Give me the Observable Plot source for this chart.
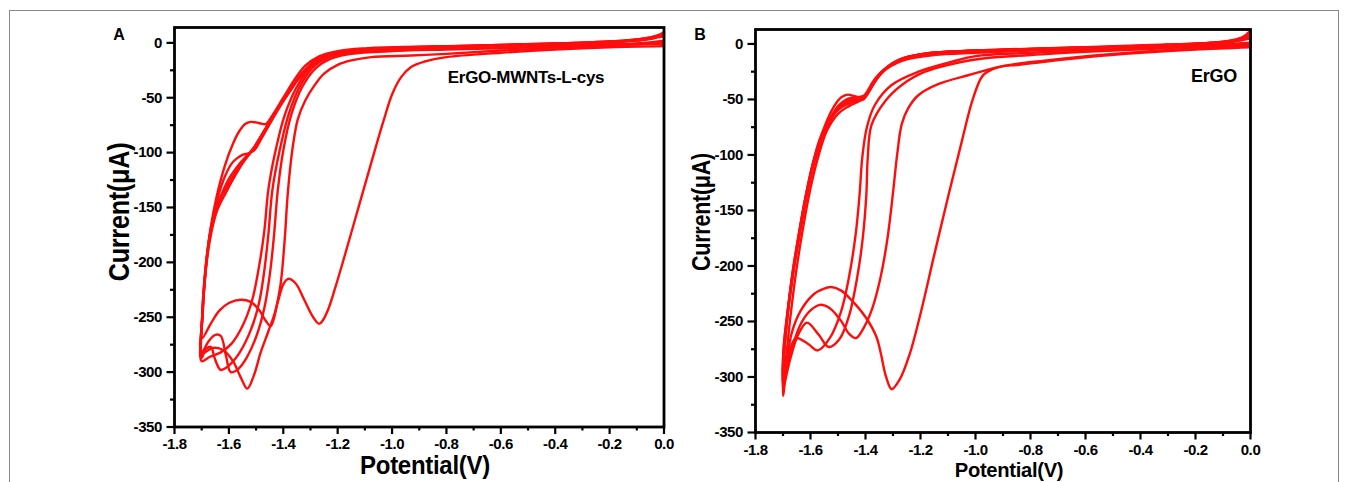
<!DOCTYPE html>
<html><head><meta charset="utf-8">
<script src="https://cdn.jsdelivr.net/npm/d3@7"></script>
<script src="https://cdn.jsdelivr.net/npm/@observablehq/plot@0.6"></script>
<style>
html,body{margin:0;padding:0;background:#fff;}
#fig{position:relative;width:1347px;height:482px;overflow:hidden;font-family:"Liberation Sans",Arial,sans-serif;}
#border{position:absolute;left:9px;top:10px;width:1328px;height:520px;border:1px solid #888;}
.lbl{position:absolute;font-weight:bold;color:#000;white-space:nowrap;line-height:1;}
svg{position:absolute;top:0;}
</style></head><body>
<div id="fig"><div id="border"></div></div>
<script>
// ---------- tick values ----------
const xMajor = [-1.8,-1.6,-1.4,-1.2,-1.0,-0.8,-0.6,-0.4,-0.2,0.0];
const xMinor = [-1.7,-1.5,-1.3,-1.1,-0.9,-0.7,-0.5,-0.3,-0.1];
const yMajor = [0,-50,-100,-150,-200,-250,-300,-350];
const yMinor = [-25,-75,-125,-175,-225,-275,-325];

// ---------- Panel A : ErGO-MWNTs-L-cys  [potential V, current uA] ----------
const A1 = [[0,-3],[-0.2,-4],[-0.4,-6],[-0.6,-9],[-0.8,-13],[-0.88,-17],[-0.93,-22],[-0.966,-31],[-1.0,-47],[-1.03,-70],[-1.06,-95],[-1.09,-121],[-1.12,-147],[-1.15,-173],[-1.18,-199],[-1.21,-224],[-1.235,-243],[-1.255,-253],[-1.268,-256],[-1.29,-250],[-1.323,-234],[-1.355,-219],[-1.382,-215],[-1.40,-220],[-1.42,-236],[-1.446,-258],[-1.465,-253],[-1.49,-243],[-1.52,-236],[-1.556,-234],[-1.60,-237],[-1.635,-244],[-1.667,-256],[-1.698,-269],
  [-1.695,-240],[-1.685,-205],[-1.668,-170],[-1.645,-140],[-1.615,-112],[-1.585,-92],[-1.563,-81],[-1.54,-74],[-1.52,-72],[-1.50,-72.5],[-1.483,-73.5],[-1.464,-74],[-1.44,-66],[-1.40,-50],[-1.36,-34],[-1.32,-21],[-1.27,-12.5],[-1.2,-7.5],[-1.1,-5],[-0.9,-3.5],[-0.6,-2],[-0.3,0],[-0.1,2],[-0.03,5],[0,10]];
const A2 = [[0,2],[-0.1,-1],[-0.3,-3.5],[-0.6,-7],[-0.8,-10],[-0.93,-11.5],[-1.077,-13],[-1.15,-16],[-1.2,-20],[-1.25,-28],[-1.286,-39],[-1.32,-53],[-1.347,-70],[-1.368,-100],[-1.384,-139],[-1.395,-180],[-1.41,-220],[-1.43,-245],[-1.455,-263],[-1.483,-282],[-1.508,-303],[-1.532,-315],[-1.556,-305],[-1.585,-290],[-1.62,-280],[-1.66,-278],[-1.70,-283],
  [-1.697,-250],[-1.688,-215],[-1.672,-178],[-1.65,-150],[-1.62,-125],[-1.59,-110],[-1.569,-105],[-1.55,-102],[-1.532,-101],[-1.507,-98],[-1.48,-87],[-1.45,-74],[-1.41,-57],[-1.375,-44],[-1.34,-31],[-1.31,-22],[-1.27,-14],[-1.22,-9.5],[-1.15,-7],[-1.0,-4.5],[-0.7,-2.5],[-0.4,-0.5],[-0.15,2],[-0.05,5],[0,9]];
const A3 = [[0,1],[-0.1,-0.5],[-0.4,-3.5],[-0.8,-6],[-1.0,-7.5],[-1.15,-10],[-1.22,-14],[-1.28,-23],[-1.33,-40],[-1.37,-65],[-1.40,-98],[-1.42,-134],[-1.435,-178],[-1.45,-212],[-1.47,-242],[-1.50,-268],[-1.535,-287],[-1.565,-297],[-1.593,-300],[-1.61,-286],[-1.63,-267],[-1.65,-266],[-1.675,-272],[-1.70,-282],
  [-1.698,-248],[-1.69,-218],[-1.675,-184],[-1.655,-158],[-1.63,-140],[-1.60,-124],[-1.56,-110],[-1.51,-96],[-1.47,-80],[-1.44,-68],[-1.40,-52],[-1.37,-41],[-1.335,-29],[-1.30,-20],[-1.26,-13.5],[-1.2,-9],[-1.12,-6.5],[-0.95,-4.5],[-0.7,-3],[-0.4,-1],[-0.15,1.5],[-0.05,4],[0,7]];
const A4 = [[0,0],[-0.1,-1],[-0.4,-3],[-0.8,-5.5],[-1.0,-7],[-1.15,-9],[-1.23,-13],[-1.29,-22],[-1.34,-40],[-1.38,-65],[-1.415,-100],[-1.44,-134],[-1.455,-175],[-1.47,-208],[-1.49,-238],[-1.52,-262],[-1.56,-282],[-1.60,-294],[-1.63,-298],[-1.65,-289],[-1.667,-277],[-1.685,-279],[-1.70,-287],
  [-1.697,-245],[-1.687,-212],[-1.67,-180],[-1.645,-154],[-1.61,-136],[-1.575,-120],[-1.54,-106],[-1.50,-93],[-1.46,-77],[-1.43,-65],[-1.39,-49],[-1.36,-38],[-1.325,-26],[-1.29,-18],[-1.25,-12.5],[-1.19,-8.5],[-1.1,-6],[-0.95,-4.5],[-0.7,-2.5],[-0.4,-0.5],[-0.15,2],[-0.05,5],[0,8]];
const A5 = [[0,-1],[-0.1,-1.5],[-0.4,-3],[-0.8,-5],[-1.0,-6.5],[-1.15,-8.5],[-1.24,-13],[-1.30,-22],[-1.35,-40],[-1.395,-66],[-1.43,-100],[-1.455,-134],[-1.47,-172],[-1.49,-205],[-1.515,-235],[-1.55,-258],[-1.59,-274],[-1.63,-282],[-1.67,-286],[-1.70,-290],
  [-1.699,-255],[-1.692,-222],[-1.678,-188],[-1.66,-162],[-1.635,-144],[-1.60,-128],[-1.565,-114],[-1.52,-100],[-1.48,-84],[-1.45,-72],[-1.41,-56],[-1.38,-45],[-1.345,-33],[-1.31,-23],[-1.27,-15.5],[-1.22,-10.5],[-1.15,-7.5],[-1.0,-5],[-0.7,-3],[-0.4,-1],[-0.15,1.5],[-0.05,4],[0,6]];

// ---------- Panel B : ErGO ----------
const B1 = [[0,-3],[-0.2,-5],[-0.4,-8],[-0.6,-12],[-0.75,-16],[-0.85,-19],[-0.90,-20],[-0.94,-23],[-0.975,-29],[-1.01,-50],[-1.05,-88],[-1.097,-135],[-1.15,-190],[-1.20,-243],[-1.24,-280],[-1.275,-302],[-1.305,-311],[-1.325,-300],[-1.345,-278],[-1.36,-264],[-1.40,-246],[-1.45,-231],[-1.49,-222],[-1.526,-219],[-1.556,-221],[-1.586,-225],[-1.635,-240],[-1.67,-262],[-1.70,-317],
  [-1.698,-290],[-1.688,-255],[-1.668,-212],[-1.645,-175],[-1.62,-140],[-1.595,-112],[-1.572,-90],[-1.556,-79],[-1.525,-61],[-1.50,-51],[-1.488,-48],[-1.464,-45.7],[-1.44,-47],[-1.415,-48.7],[-1.397,-46],[-1.378,-36],[-1.35,-27],[-1.31,-19],[-1.27,-13.5],[-1.2,-9.5],[-1.1,-7],[-0.9,-5],[-0.6,-3],[-0.3,-1],[-0.1,2],[-0.03,6],[0,12]];
const B2 = [[0,-2],[-0.2,-4],[-0.5,-9],[-0.75,-15],[-0.90,-20],[-1.024,-28],[-1.134,-36],[-1.207,-46],[-1.245,-58],[-1.268,-72],[-1.285,-100],[-1.299,-132],[-1.32,-175],[-1.345,-210],[-1.375,-238],[-1.405,-255],[-1.435,-265],[-1.46,-261],[-1.49,-249],[-1.53,-238],[-1.565,-235],[-1.60,-240],[-1.635,-252],[-1.665,-272],[-1.70,-305],
  [-1.697,-280],[-1.685,-248],[-1.665,-210],[-1.64,-172],[-1.615,-138],[-1.59,-110],[-1.565,-90],[-1.545,-78],[-1.52,-65],[-1.495,-57],[-1.47,-52],[-1.44,-50],[-1.415,-49.5],[-1.395,-45],[-1.372,-35],[-1.34,-25],[-1.30,-17],[-1.26,-12.5],[-1.19,-9],[-1.1,-7],[-0.9,-5.5],[-0.6,-3.5],[-0.3,-1],[-0.1,2],[-0.03,5],[0,9]];
const B3 = [[0,-1],[-0.2,-2.5],[-0.5,-6],[-0.8,-10],[-1.0,-14],[-1.183,-25],[-1.268,-37],[-1.33,-52],[-1.378,-73],[-1.392,-103],[-1.397,-136],[-1.41,-175],[-1.43,-210],[-1.46,-245],[-1.495,-266],[-1.534,-273],[-1.57,-262],[-1.613,-251],[-1.645,-262],[-1.675,-285],[-1.70,-310],
  [-1.698,-285],[-1.686,-250],[-1.667,-212],[-1.642,-172],[-1.618,-138],[-1.592,-108],[-1.565,-86],[-1.54,-73],[-1.51,-62],[-1.48,-56],[-1.455,-53],[-1.43,-51.5],[-1.408,-50],[-1.39,-44],[-1.366,-34],[-1.335,-24],[-1.295,-16.5],[-1.25,-12],[-1.18,-8.5],[-1.05,-6.5],[-0.85,-5],[-0.6,-3.5],[-0.3,-1],[-0.1,1.5],[-0.03,4],[0,8]];
const B4 = [[0,0],[-0.2,-2],[-0.5,-5],[-0.8,-8],[-1.0,-11],[-1.085,-16],[-1.207,-25],[-1.305,-37],[-1.366,-55],[-1.395,-75],[-1.412,-103],[-1.421,-134],[-1.435,-170],[-1.46,-210],[-1.49,-242],[-1.53,-265],[-1.573,-276],[-1.61,-270],[-1.653,-265],[-1.68,-280],[-1.70,-300],
  [-1.697,-272],[-1.683,-240],[-1.66,-200],[-1.635,-165],[-1.61,-132],[-1.583,-104],[-1.555,-84],[-1.53,-70],[-1.505,-60],[-1.478,-54],[-1.45,-52],[-1.425,-51],[-1.405,-49],[-1.385,-42],[-1.36,-32],[-1.33,-23],[-1.29,-16],[-1.24,-11.5],[-1.17,-8.5],[-1.05,-6.5],[-0.85,-5],[-0.6,-3.5],[-0.3,-1],[-0.1,1.5],[-0.03,4],[0,7]];
const B5 = [[0,1],[-0.2,-1.5],[-0.5,-4],[-0.8,-6],[-1.0,-8],[-1.15,-10],[-1.25,-14],[-1.32,-22],[-1.37,-34],[-1.40,-45],[-1.42,-51],[-1.46,-56],[-1.50,-63],[-1.54,-78],[-1.57,-100],[-1.60,-130],[-1.63,-170],[-1.655,-210],[-1.675,-250],[-1.69,-285],[-1.70,-300],
  [-1.698,-275],[-1.685,-245],[-1.665,-205],[-1.64,-168],[-1.615,-135],[-1.59,-107],[-1.56,-85],[-1.53,-68],[-1.50,-56],[-1.47,-50],[-1.45,-48.5],[-1.43,-48],[-1.41,-47],[-1.39,-43],[-1.37,-35],[-1.34,-26],[-1.30,-18],[-1.25,-12.5],[-1.18,-9],[-1.05,-6.5],[-0.85,-5],[-0.6,-3],[-0.3,-0.5],[-0.1,1.5],[-0.03,3.5],[0,5]];

const seriesA = [A1, A2, A3, A4, A5];
const seriesB = [B1, B2, B3, B4, B5];

function rowsOf(series) {
  const rows = [];
  series.forEach((pts, k) => pts.forEach(([v, i]) => rows.push({v, i, k})));
  return rows;
}

function panel(series, o) {
  const fmtX = d => d.toFixed(1);
  const fmtY = d => String(d);
  const svg = Plot.plot({
    width: o.width, height: 482,
    marginLeft: o.ml, marginRight: o.mr, marginTop: o.mt, marginBottom: o.mb,
    x: {domain: [-1.8, 0], label: null},
    y: {domain: [-350, o.ymax], label: null},
    style: {fontFamily: '"Liberation Sans", Arial, sans-serif', fontSize: "15px", fontWeight: "bold", color: "#000", background: "transparent", overflow: "visible", letterSpacing: "-0.4px"},
    marks: [
      Plot.line(rowsOf(series), {x: "v", y: "i", z: "k", stroke: "#ff0d0d", strokeWidth: 2.4, curve: "catmull-rom"}),
      Plot.axisX({ticks: xMinor, tickSize: 4, strokeWidth: 2.2, tickFormat: () => "", label: null}),
      Plot.axisX({ticks: xMajor, tickSize: 7.5, strokeWidth: 2.2, tickPadding: 4, tickFormat: fmtX, label: null}),
      Plot.axisY({ticks: yMinor, tickSize: 4, strokeWidth: 2.2, tickFormat: () => "", label: null}),
      Plot.axisY({ticks: yMajor, tickSize: 7.5, strokeWidth: 2.2, tickPadding: 5, tickFormat: fmtY, label: null}),
      Plot.frame({stroke: "#000", strokeWidth: 2.8})
    ]
  });
  svg.style.left = o.left + "px";
  return svg;
}

const fig = document.getElementById("fig");
fig.appendChild(panel(seriesA, {left: 0, width: 680, ml: 174, mr: 16.5, mt: 27, mb: 55.5, ymax: 14}));
fig.appendChild(panel(seriesB, {left: 680, width: 667, ml: 75, mr: 97, mt: 29, mb: 50, ymax: 13}));

const labels = [
  {t: "A", x: 119, y: 35, s: 16, k: 1},
  {t: "B", x: 700, y: 35, s: 16, k: 1},
  {t: "Current(μA)", x: 119, y: 212, s: 30, rot: true, k: 0.84},
  {t: "Current(μA)", x: 701, y: 212, s: 25, rot: true, k: 0.86},
  {t: "Potential(V)", x: 425, y: 465, s: 25, k: 0.96},
  {t: "Potential(V)", x: 1009, y: 469, s: 21, k: 0.96},
  {t: "ErGO-MWNTs-L-cys", x: 526, y: 77, s: 17, k: 1},
  {t: "ErGO", x: 1214, y: 76, s: 18, k: 1}
];
for (const l of labels) {
  const d = document.createElement("div");
  d.className = "lbl";
  d.textContent = l.t;
  d.style.left = l.x + "px";
  d.style.top = l.y + "px";
  d.style.fontSize = l.s + "px";
  d.style.letterSpacing = "-0.3px";
  d.style.transform = "translate(-50%,-50%)" + (l.rot ? " rotate(-90deg)" : "") + " scaleX(" + l.k + ")";
  fig.appendChild(d);
}
</script></body></html>
